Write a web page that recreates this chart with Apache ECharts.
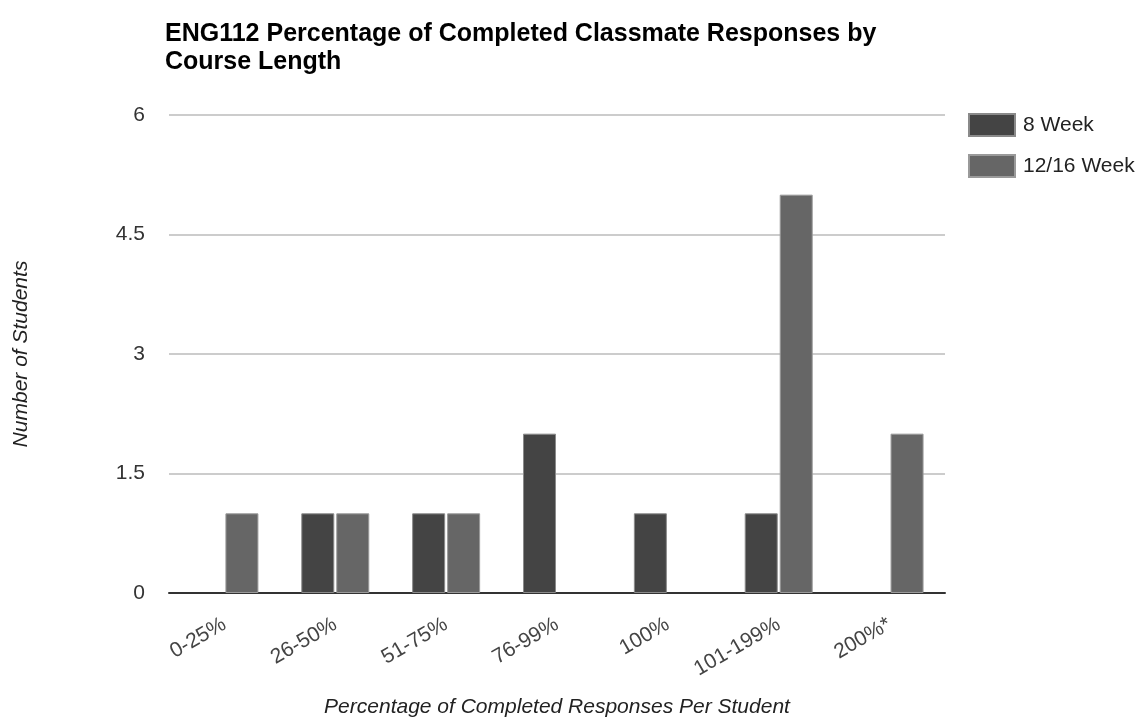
<!DOCTYPE html>
<html>
<head>
<meta charset="utf-8">
<title>ENG112 Percentage of Completed Classmate Responses by Course Length</title>
<script src="https://cdn.jsdelivr.net/npm/echarts@6/dist/echarts.min.js"></script>
<style>
  html, body { margin: 0; padding: 0; background: #ffffff; }
  #chart { width: 1142px; height: 723px; }
</style>
</head>
<body>
<div id="chart"></div>
<script>
// Completion buckets (share of required classmate responses finished)
const categories = ['0-25%', '26-50%', '51-75%', '76-99%', '100%', '101-199%', '200%*'];
// Student counts per bucket for each course length
const eightWeek = [0, 1, 1, 2, 1, 1, 0];
const twelveSixteenWeek = [1, 1, 1, 0, 0, 5, 2];
const seriesNames = ['8 Week', '12/16 Week'];
// Value axis ticks
const yTicks = [0, 1.5, 3, 4.5, 6];

const FONT = '"Liberation Sans", Arial, sans-serif';

// Empty buckets get no bar at all (so no outline is drawn along the axis)
const asBars = (values) => values.map((v) => (v === 0 ? null : v));

const chart = echarts.init(document.getElementById('chart'), null, { renderer: 'canvas' });

chart.setOption({
  backgroundColor: '#ffffff',
  animation: false,
  title: {
    text: 'ENG112 Percentage of Completed Classmate Responses by\nCourse Length',
    left: 165,
    top: 20,
    padding: 0,
    textStyle: {
      fontFamily: FONT,
      fontSize: 25,
      fontWeight: 'bold',
      color: '#000000',
      lineHeight: 28
    }
  },
  legend: {
    orient: 'vertical',
    left: 968,
    top: 113,
    padding: 0,
    itemWidth: 46,
    itemHeight: 22,
    itemGap: 17,
    icon: 'rect',
    data: seriesNames,
    textStyle: {
      fontFamily: FONT,
      fontSize: 21,
      color: '#222222',
      padding: [0, 0, 0, 3]
    }
  },
  grid: {
    left: 169,
    right: 197,
    top: 115,
    bottom: 130,
    containLabel: false
  },
  xAxis: {
    type: 'category',
    data: categories,
    name: 'Percentage of Completed Responses Per Student',
    nameLocation: 'middle',
    nameGap: 104,
    nameTextStyle: {
      fontFamily: FONT,
      fontSize: 21,
      fontStyle: 'italic',
      color: '#222222'
    },
    axisLine: { show: true, lineStyle: { color: '#333333', width: 2 } },
    axisTick: { show: false },
    axisLabel: {
      rotate: 30,
      margin: 30,
      interval: 0,
      fontFamily: FONT,
      fontSize: 21,
      color: '#444444'
    },
    splitLine: { show: false }
  },
  yAxis: {
    type: 'value',
    min: yTicks[0],
    max: yTicks[yTicks.length - 1],
    interval: yTicks[1] - yTicks[0],
    name: 'Number of Students',
    nameLocation: 'middle',
    nameGap: 137,
    nameTextStyle: {
      fontFamily: FONT,
      fontSize: 21,
      fontStyle: 'italic',
      color: '#222222'
    },
    axisLine: { show: false },
    axisTick: { show: false },
    axisLabel: {
      margin: 24,
      fontFamily: FONT,
      fontSize: 21,
      color: '#333333'
    },
    splitLine: { show: true, lineStyle: { color: '#cccccc', width: 2 } }
  },
  series: [
    {
      name: seriesNames[0],
      type: 'bar',
      data: asBars(eightWeek),
      barWidth: 33,
      barGap: '6%',
      itemStyle: { color: '#444444', borderColor: '#8a8a8a', borderWidth: 1 }
    },
    {
      name: seriesNames[1],
      type: 'bar',
      data: asBars(twelveSixteenWeek),
      barWidth: 33,
      barGap: '6%',
      itemStyle: { color: '#666666', borderColor: '#9a9a9a', borderWidth: 1 }
    }
  ]
});
</script>
</body>
</html>
